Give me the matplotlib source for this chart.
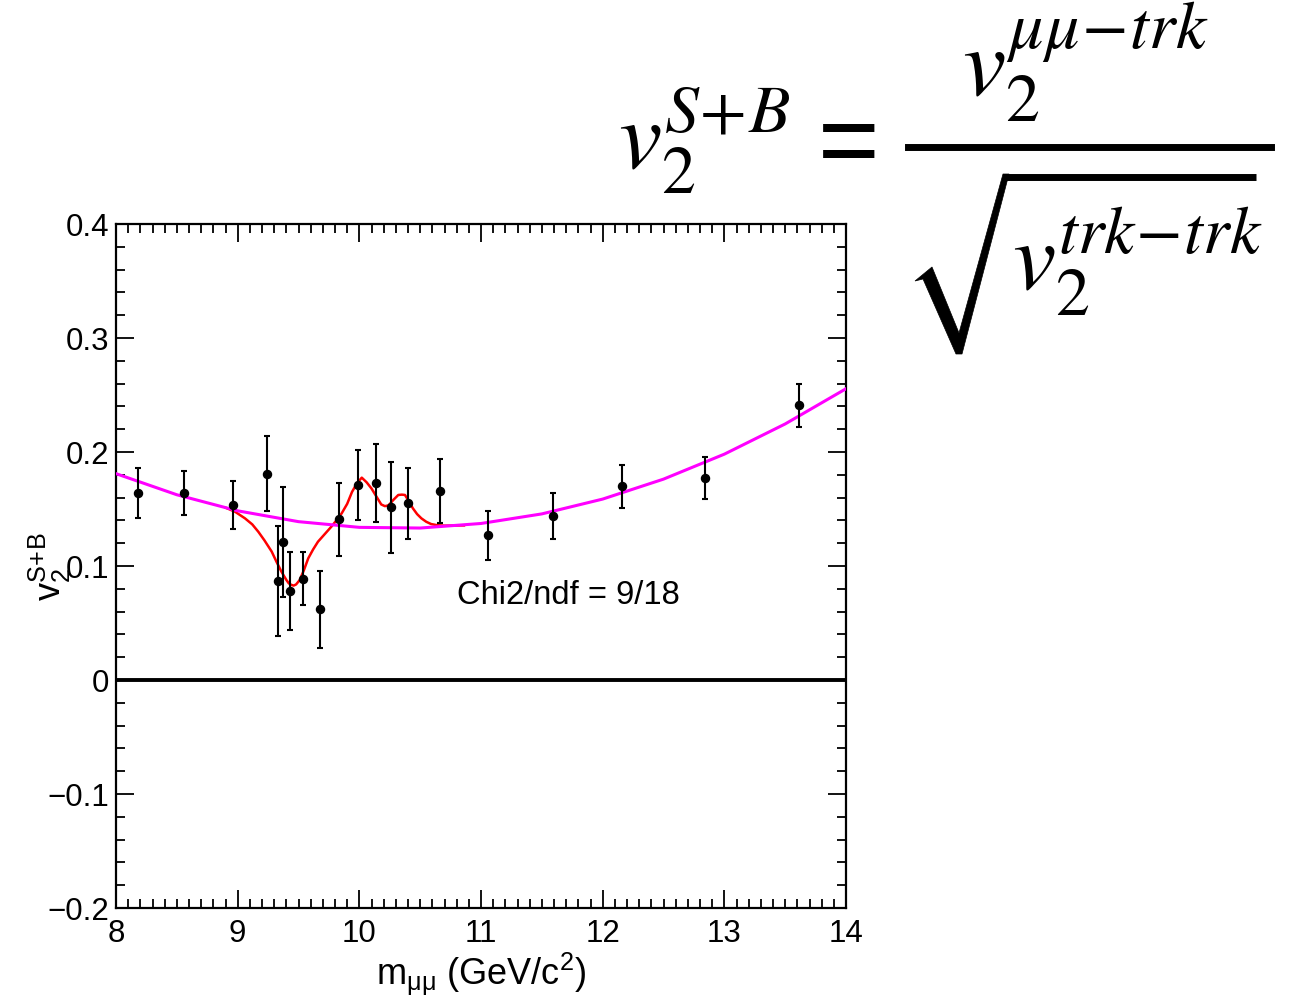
import matplotlib
matplotlib.use("Agg")
import matplotlib.pyplot as plt
from matplotlib.lines import Line2D
from matplotlib.patches import Polygon
from matplotlib.ticker import MultipleLocator, FuncFormatter

plt.rcParams['font.family'] = ['Liberation Sans', 'DejaVu Sans']
plt.rcParams['mathtext.fontset'] = 'custom'
plt.rcParams['mathtext.rm'] = 'Liberation Sans'
plt.rcParams['mathtext.it'] = 'Liberation Sans:italic'
plt.rcParams['mathtext.default'] = 'regular'

W, H = 1294, 998

# measured v2 points (mass in GeV/c^2)
mass = [8.18, 8.56, 8.96, 9.24, 9.33, 9.37, 9.43, 9.54, 9.68, 9.83,
        9.99, 10.14, 10.26, 10.40, 10.66, 11.06, 11.59, 12.16, 12.84, 13.61]
v2 = [0.164, 0.164, 0.1535, 0.181, 0.087, 0.121, 0.078, 0.089, 0.062, 0.141,
      0.171, 0.173, 0.1515, 0.155, 0.166, 0.127, 0.144, 0.170, 0.1775, 0.241]
v2_err = [0.022, 0.0195, 0.021, 0.033, 0.048, 0.048, 0.034, 0.023, 0.034, 0.032,
          0.031, 0.034, 0.040, 0.031, 0.028, 0.0215, 0.020, 0.019, 0.0185, 0.0187]

# background fit (magenta)
bkg_x = [8.0, 8.5, 9.0, 9.5, 10.0, 10.5, 11.0, 11.5, 12.0, 12.5, 13.0, 13.5, 14.0]
bkg_y = [0.181, 0.1625, 0.1484, 0.1389, 0.1339, 0.1333, 0.1373, 0.1457, 0.1587,
         0.1762, 0.1981, 0.2246, 0.2555]

# signal+background fit (red)
sb_x = [8.90, 8.98, 9.06, 9.12, 9.17, 9.22, 9.28, 9.32, 9.36, 9.40, 9.42, 9.44,
        9.46, 9.48, 9.51, 9.545, 9.58, 9.62, 9.66, 9.72, 9.77, 9.815, 9.855, 9.90,
        9.94, 9.98, 10.02, 10.06, 10.10, 10.14, 10.18, 10.21, 10.24, 10.28, 10.32,
        10.35, 10.375, 10.41, 10.44, 10.475, 10.51, 10.55, 10.59, 10.64, 10.70, 10.86]
sb_y = [0.1512, 0.1475, 0.1418, 0.1365, 0.130, 0.1225, 0.1126, 0.1035, 0.095,
        0.0878, 0.0848, 0.0835, 0.0828, 0.0838, 0.0877, 0.0965, 0.1067, 0.1145,
        0.1213, 0.1285, 0.1345, 0.1405, 0.1462, 0.1545, 0.165, 0.1725, 0.1775,
        0.1734, 0.168, 0.161, 0.154, 0.1525, 0.1532, 0.158, 0.1623, 0.1626,
        0.1623, 0.1564, 0.1506, 0.1455, 0.1418, 0.1388, 0.1368, 0.1358, 0.1354,
        0.1356]

chi2_text = "Chi2/ndf = 9/18"


def fx(x):
    return x / W


def fy(y):
    return 1 - y / H


fig = plt.figure(figsize=(12.94, 9.98), dpi=100)
ax = fig.add_axes([fx(116), fy(908), 730 / W, 684 / H])

ax.axhline(0, color='black', lw=2.8, zorder=1)
ax.plot(sb_x, sb_y, color='red', lw=1.8, zorder=2)
ax.plot(bkg_x, bkg_y, color='magenta', lw=2.2, zorder=3)
ax.errorbar(mass, v2, yerr=v2_err, fmt='o', color='black', ms=5.8,
            elinewidth=1.5, capsize=2.4, capthick=1.5, zorder=4)

ax.set_xlim(8, 14)
ax.set_ylim(-0.2, 0.4)
ax.xaxis.set_major_locator(MultipleLocator(1))
ax.xaxis.set_minor_locator(MultipleLocator(0.1))
ax.yaxis.set_major_locator(MultipleLocator(0.1))
ax.yaxis.set_minor_locator(MultipleLocator(0.02))
ax.yaxis.set_major_formatter(FuncFormatter(lambda v, p: ('%g' % round(v, 3)).replace('-', '\u2212')))
ax.xaxis.set_major_formatter(FuncFormatter(lambda v, p: '%d' % round(v)))
ax.tick_params(which='both', direction='in', top=True, right=True, width=1.3)
ax.tick_params(which='major', length=13, labelsize=22.5)
ax.tick_params(axis='x', which='major', pad=8)
ax.tick_params(axis='y', which='major', pad=5)
ax.tick_params(which='minor', length=6.5)
for s in ax.spines.values():
    s.set_linewidth(1.6)

ax.text((457 - 116) / 730, (908 - 604) / 684, chi2_text, transform=ax.transAxes,
        fontsize=23.5, va='baseline', ha='left')

fig.text(fx(481), fy(985), r'$m_{\mu\mu}$ (GeV/c$^{2}$)', fontsize=26,
         ha='center', va='baseline')
fig.text(fx(50), fy(567), r'$v_{2}^{S\!+\!B}$', fontsize=26, rotation=90,
         ha='center', va='center')

# big formula: v2^{S+B} = v2^{mumu-trk} / sqrt(v2^{trk-trk})
fkw = dict(fontsize=70, math_fontfamily='stix', va='baseline', ha='left')
fig.text(fx(618), fy(168), r'$\mathit{v}_{\mathrm{2}}^{\mathit{S\!+\!B}}$', **fkw)
fig.text(fx(839), fy(146), r'$=$', fontsize=76, math_fontfamily='stix',
         ha='center', va='center')
fig.text(fx(962), fy(97), r'$\mathit{v}_{\mathrm{2}}^{\mathit{\mu\mu\!-\!trk}}$', **fkw)
fig.text(fx(1012), fy(290), r'$\mathit{v}_{\mathrm{2}}^{\mathit{trk\!-\!trk}}$', **fkw)

# fraction bar and radical sign
fig.add_artist(Line2D([fx(908), fx(1271)], [fy(147), fy(147)], color='black', lw=5))
rad = [(915, 281), (932, 267), (959, 333), (1003, 174), (1009, 174),
       (962, 354), (956, 354), (923, 279)]
fig.add_artist(Polygon([(fx(a), fy(b)) for a, b in rad], closed=True,
                       facecolor='black', edgecolor='black', lw=0.5))
fig.add_artist(Line2D([fx(1004), fx(1256)], [fy(177), fy(177)], color='black',
                      lw=5, solid_capstyle='butt'))

fig.savefig("out.png", dpi=100)
